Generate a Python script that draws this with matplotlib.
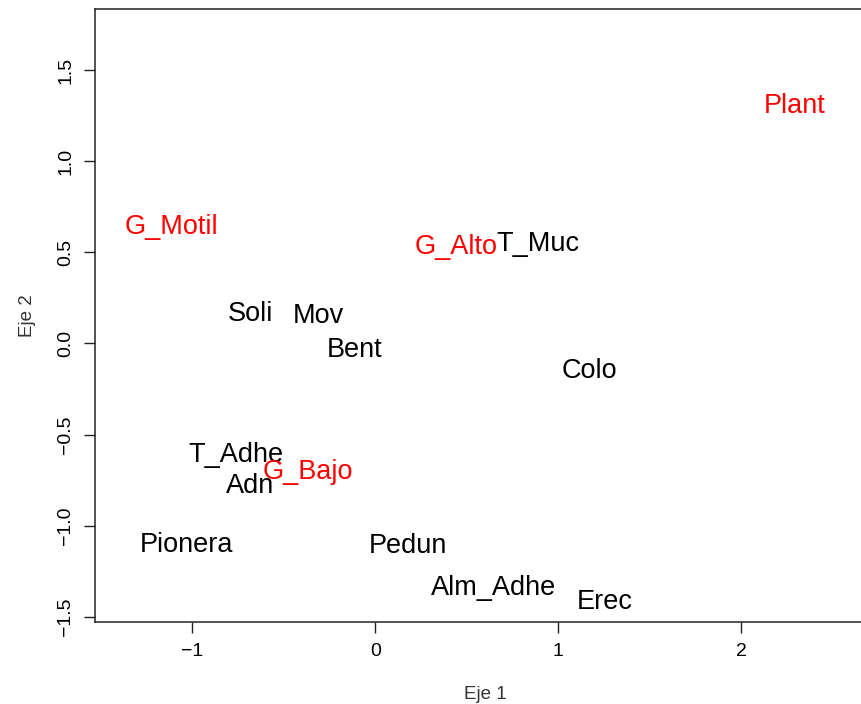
import matplotlib.pyplot as plt

plt.rcParams['font.family'] = ['Liberation Sans', 'DejaVu Sans']

# ordination scores for the traits (black) and groups (red)
traits = ['Soli', 'Mov', 'Bent', 'T_Muc', 'Colo', 'T_Adhe', 'Adn',
          'Pionera', 'Pedun', 'Alm_Adhe', 'Erec']
traits_x = [-0.68, -0.31, -0.115, 0.89, 1.17, -0.76, -0.685,
            -1.03, 0.18, 0.645, 1.255]
traits_y = [0.162, 0.151, -0.036, 0.545, -0.151, -0.611, -0.783,
            -1.106, -1.111, -1.343, -1.421]

groups = ['Plant', 'G_Motil', 'G_Alto', 'G_Bajo']
groups_x = [2.29, -1.115, 0.44, -0.37]
groups_y = [1.304, 0.639, 0.529, -0.706]

fig = plt.figure(figsize=(8.61, 7.04), dpi=100)
ax = fig.add_axes([0.1103, 0.1169, 0.9059, 0.8703])

for lab, x, y in zip(traits, traits_x, traits_y):
    ax.text(x, y, lab, color='black', fontsize=19.5, ha='center', va='center')
for lab, x, y in zip(groups, groups_x, groups_y):
    ax.text(x, y, lab, color='#ff0000', fontsize=19.5, ha='center', va='center')

ax.set_xlim(-1.531, 2.73)
ax.set_ylim(-1.528, 1.837)
ax.set_xticks([-1, 0, 1, 2])
ax.set_xticklabels(['\u22121', '0', '1', '2'])
ax.set_yticks([-1.5, -1.0, -0.5, 0.0, 0.5, 1.0, 1.5])
ax.set_yticklabels(['\u22121.5', '\u22121.0', '\u22120.5', '0.0', '0.5', '1.0', '1.5'],
                   rotation=90, va='center')
ax.tick_params(axis='both', length=8, width=1.0, labelsize=14, color='#222222')
ax.tick_params(axis='x', pad=7)
ax.tick_params(axis='y', pad=7)
for s in ax.spines.values():
    s.set_linewidth(1.1)
    s.set_color('#222222')

ax.set_xlabel('Eje 1', fontsize=13.5, labelpad=19, color='#333333')
ax.set_ylabel('Eje 2', fontsize=13.5, labelpad=15, color='#333333')

fig.savefig('out.png', dpi=100)
